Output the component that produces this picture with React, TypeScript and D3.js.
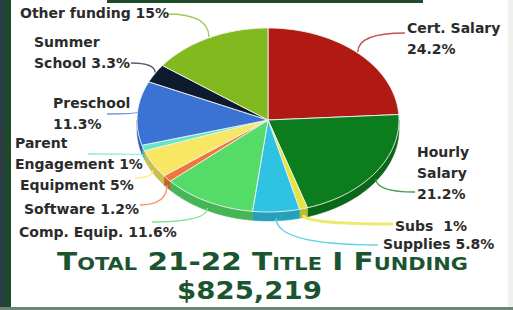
import React, { useEffect, useRef } from "react";
import * as d3 from "d3";

// slices, clockwise from 12 o'clock
const categories = [
  "Cert. Salary", "Hourly Salary", "Subs", "Supplies", "Comp. Equip.", "Software",
  "Equipment", "Parent Engagement", "Preschool", "Summer School", "Other funding",
];
const values = [24.2, 21.2, 1, 5.8, 11.6, 1.2, 5, 1, 11.3, 3.3, 15];
const labelLines = [
  ["Cert. Salary", "24.2%"],
  ["Hourly", "Salary", "21.2%"],
  ["Subs  1%"],
  ["Supplies 5.8%"],
  ["Comp. Equip. 11.6%"],
  ["Software 1.2%"],
  ["Equipment 5%"],
  ["Parent", "Engagement 1%"],
  ["Preschool", "11.3%"],
  ["Summer", "School 3.3%"],
  ["Other funding 15%"],
];
const titleText = "Total 21-22 Title I Funding";
const totalText = "$825,219";

const colors = [
  "#b01a12", "#0b7d1d", "#e6e43c", "#2ec3e3", "#55dc68", "#ef7838",
  "#f8e762", "#62e8c4", "#3a73d3", "#0e1b2f", "#82b91f",
];

// label placement: text x, first baseline, leader end point
const labelPos = [
  { x: 407, y: 33, ex: 405, ey: 33 },
  { x: 417, y: 157, ex: 415, ey: 192 },
  { x: 395, y: 231, ex: 393, ey: 224 },
  { x: 383, y: 249, ex: 378, ey: 245 },
  { x: 19, y: 237, ex: 152, ey: 222 },
  { x: 24, y: 214, ex: 140, ey: 205 },
  { x: 20, y: 190, ex: 135, ey: 178 },
  { x: 15, y: 148, ex: 88, ey: 154 },
  { x: 53, y: 108, ex: 107, ey: 114 },
  { x: 34, y: 47, ex: 131, ey: 63 },
  { x: 20, y: 18, ex: 167, ey: 14 },
];

const W = 513, H = 310;
const cx = 268, cy = 120, rx = 131, ry = 92, depth = 9;

export default function App() {
  const ref = useRef<SVGSVGElement>(null);

  useEffect(() => {
    const svg = d3.select(ref.current);
    svg.selectAll("*").remove();

    // frame
    svg.append("rect").attr("width", W).attr("height", H).attr("fill", "#ffffff");
    svg.append("rect").attr("x", 0).attr("y", 0).attr("width", 5).attr("height", H).attr("fill", "#2e3d45");
    svg.append("rect").attr("x", 5).attr("y", 0).attr("width", 6).attr("height", H).attr("fill", "#1b4a2b");
    svg.append("rect").attr("x", 508).attr("y", 0).attr("width", 5).attr("height", H).attr("fill", "#eef1ee");
    svg.append("rect").attr("x", 0).attr("y", 307).attr("width", W).attr("height", 3).attr("fill", "#6b8676");
    svg.append("rect").attr("x", 107).attr("y", 0).attr("width", 316).attr("height", 3).attr("fill", "#1d4b2b");

    const arcs = d3.pie<number>().sort(null).value(d => d)(values);

    const pt = (a: number, dy = 0): [number, number] => [cx + rx * Math.sin(a), cy - ry * Math.cos(a) + dy];
    const arcPts = (a0: number, a1: number, dy: number) => {
      const n = Math.max(2, Math.ceil((a1 - a0) / 0.02));
      return d3.range(n + 1).map(i => pt(a0 + ((a1 - a0) * i) / n, dy));
    };
    const line = d3.line();

    // sides (front half only)
    const g = svg.append("g");
    arcs.forEach((d, i) => {
      const s = Math.max(d.startAngle, Math.PI / 2);
      const e = Math.min(d.endAngle, (3 * Math.PI) / 2);
      if (s >= e) return;
      const pts = arcPts(s, e, 0).concat(arcPts(s, e, depth).reverse());
      const side = d3.color(colors[i])!.darker(0.55).toString();
      g.append("path")
        .attr("d", line(pts) + "Z")
        .attr("fill", side)
        .attr("stroke", side)
        .attr("stroke-width", 0.5);
    });

    // top faces
    arcs.forEach((d, i) => {
      const pts: [number, number][] = [[cx, cy], ...arcPts(d.startAngle, d.endAngle, 0)];
      g.append("path")
        .attr("d", line(pts) + "Z")
        .attr("fill", colors[i])
        .attr("stroke", "#eef2ee")
        .attr("stroke-width", 0.9)
        .attr("stroke-linejoin", "round");
    });

    // leaders
    arcs.forEach((d, i) => {
      const mid = (d.startAngle + d.endAngle) / 2;
      const front = Math.cos(mid) < 0;
      const [sx, sy] = pt(mid, front ? depth / 2 + 2 : -1);
      const p = labelPos[i];
      const path = d3.path();
      path.moveTo(sx, sy);
      path.quadraticCurveTo(sx, p.ey, p.ex, p.ey);
      svg.append("path")
        .attr("d", path.toString())
        .attr("fill", "none")
        .attr("stroke", d3.interpolateRgb(colors[i], "#ffffff")(categories[i] === "Summer School" ? 0.3 : 0.25))
        .attr("stroke-width", categories[i] === "Subs" ? 3 : 1.4);
    });

    // labels
    labelLines.forEach((lines, i) => {
      const p = labelPos[i];
      const t = svg.append("text")
        .attr("x", p.x).attr("y", p.y)
        .attr("font-family", "'DejaVu Sans', sans-serif")
        .attr("font-weight", "bold")
        .attr("font-size", 14)
        .attr("fill", "#2b2b2b")
        .style("white-space", "pre");
      lines.forEach((l, j) => {
        t.append("tspan").attr("x", p.x).attr("dy", j === 0 ? 0 : 21).text(l);
      });
    });

    // title
    svg.append("text")
      .attr("x", 57).attr("y", 270)
      .attr("textLength", 411).attr("lengthAdjust", "spacingAndGlyphs")
      .attr("font-family", "'DejaVu Sans', sans-serif")
      .attr("font-weight", "bold")
      .attr("font-size", 24)
      .style("font-variant", "small-caps")
      .attr("fill", "#1b5530")
      .text(titleText);
    svg.append("text")
      .attr("x", 177).attr("y", 299)
      .attr("textLength", 145).attr("lengthAdjust", "spacingAndGlyphs")
      .attr("font-family", "'DejaVu Sans', sans-serif")
      .attr("font-weight", "bold")
      .attr("font-size", 24)
      .attr("fill", "#1b5530")
      .text(totalText);
  }, []);

  return (
    <svg ref={ref} width={W} height={H} style={{ position: "absolute", left: 0, top: 0 }} />
  );
}
